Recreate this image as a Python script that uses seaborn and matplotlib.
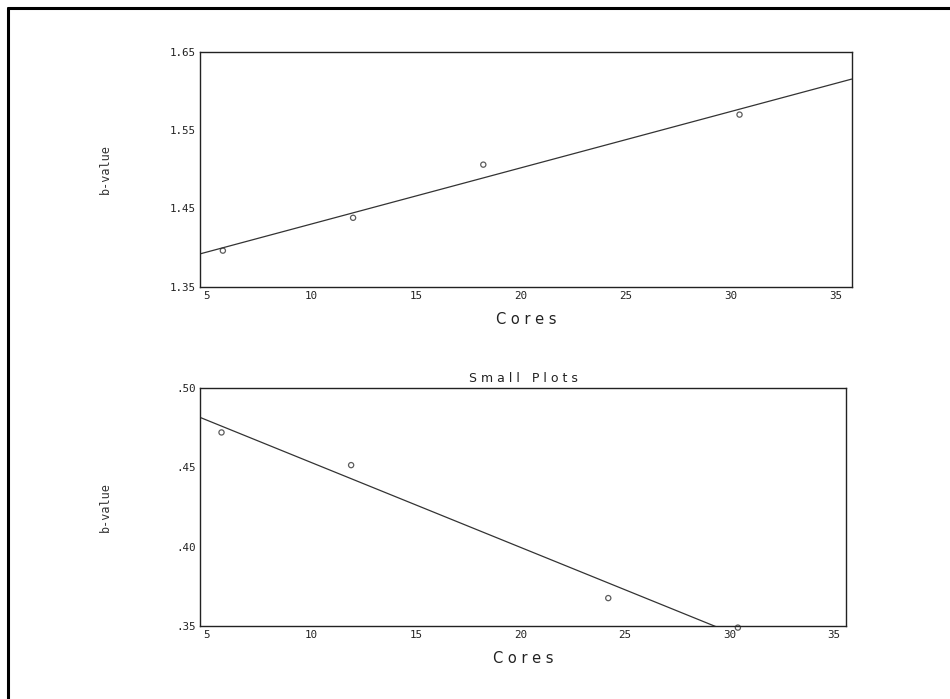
import numpy as np
import pandas as pd
import seaborn as sns
import matplotlib
matplotlib.use("Agg")
import matplotlib.pyplot as plt
from matplotlib.lines import Line2D

# ---- data ----
cores_top = [5.8, 12.0, 18.2, 30.4]
bvalue_top = [1.396, 1.438, 1.506, 1.570]

cores_bottom = [5.7, 11.9, 24.2, 30.4]
bvalue_bottom = [0.472, 0.4514, 0.3676, 0.349]

x_ticks = [5, 10, 15, 20, 25, 30, 35]
y_ticks_top = [1.35, 1.45, 1.55, 1.65]
y_ticklabels_top = ["1.35", "1.45", "1.55", "1.65"]
y_ticks_bottom = [0.35, 0.40, 0.45, 0.50]
y_ticklabels_bottom = [".35", ".40", ".45", ".50"]

df_top = pd.DataFrame({"Cores": cores_top, "b-value": bvalue_top})
df_bot = pd.DataFrame({"Cores": cores_bottom, "b-value": bvalue_bottom})

sns.set_theme(style="white")
plt.rcParams["font.family"] = ["DejaVu Sans Mono", "DejaVu Sans"]

fig = plt.figure(figsize=(9.5, 6.99), dpi=100)
fig.patch.set_facecolor("white")

ax1 = fig.add_axes([0.2105, 0.5900, 0.686, 0.3355])
ax2 = fig.add_axes([0.2105, 0.1044, 0.680, 0.3405])

tick_font = dict(family="DejaVu Sans Mono", size=7.8)


def style(ax, ylim, yticks, ylabels, xlim):
    ax.set_xlim(*xlim)
    ax.set_ylim(*ylim)
    ax.set_xticks(x_ticks)
    ax.set_xticklabels([str(t) for t in x_ticks], fontdict=tick_font)
    ax.set_yticks(yticks)
    ax.set_yticklabels(ylabels, fontdict=tick_font)
    ax.tick_params(axis="both", length=0, pad=3, colors="#222222")
    for s in ax.spines.values():
        s.set_visible(True)
        s.set_color("#222222")
        s.set_linewidth(1.0)
    ax.set_facecolor("white")


# top panel
style(ax1, (1.35, 1.65), y_ticks_top, y_ticklabels_top, (4.71, 35.74))
sns.regplot(data=df_top, x="Cores", y="b-value", ax=ax1, ci=None, truncate=False,
            marker="o",
            scatter_kws=dict(s=14, facecolors="none", edgecolors="#333333", linewidths=0.9),
            line_kws=dict(color="#333333", linewidth=0.9))
style(ax1, (1.35, 1.65), y_ticks_top, y_ticklabels_top, (4.71, 35.74))
ax1.set_xlabel("C o r e s", fontsize=10.5, family="DejaVu Sans", color="#222222", labelpad=8)
ax1.set_ylabel("b-value", fontsize=8.5, family="DejaVu Sans Mono", color="#333333")
ax1.yaxis.set_label_coords(-0.135, 0.5)

# bottom panel
style(ax2, (0.35, 0.50), y_ticks_bottom, y_ticklabels_bottom, (4.67, 35.57))
sns.regplot(data=df_bot, x="Cores", y="b-value", ax=ax2, ci=None, truncate=False,
            marker="o",
            scatter_kws=dict(s=14, facecolors="none", edgecolors="#333333", linewidths=0.9,
                             clip_on=False),
            line_kws=dict(color="#333333", linewidth=0.9))
style(ax2, (0.35, 0.50), y_ticks_bottom, y_ticklabels_bottom, (4.67, 35.57))
ax2.set_xlabel("C o r e s", fontsize=10.5, family="DejaVu Sans", color="#222222", labelpad=8)
ax2.set_ylabel("b-value", fontsize=8.5, family="DejaVu Sans Mono", color="#333333")
ax2.yaxis.set_label_coords(-0.136, 0.5)
ax2.set_title("S m a l l   P l o t s", fontsize=9, family="DejaVu Sans", color="#222222", pad=4)

# scanned page frame (left and top edges)
fig.add_artist(Line2D([8 / 950, 8 / 950], [0, 1 - 8 / 699], transform=fig.transFigure,
                      color="black", linewidth=2.2))
fig.add_artist(Line2D([8 / 950, 1], [1 - 8 / 699, 1 - 8 / 699], transform=fig.transFigure,
                      color="black", linewidth=2.2))

fig.savefig("out.png", dpi=100, facecolor="white")
